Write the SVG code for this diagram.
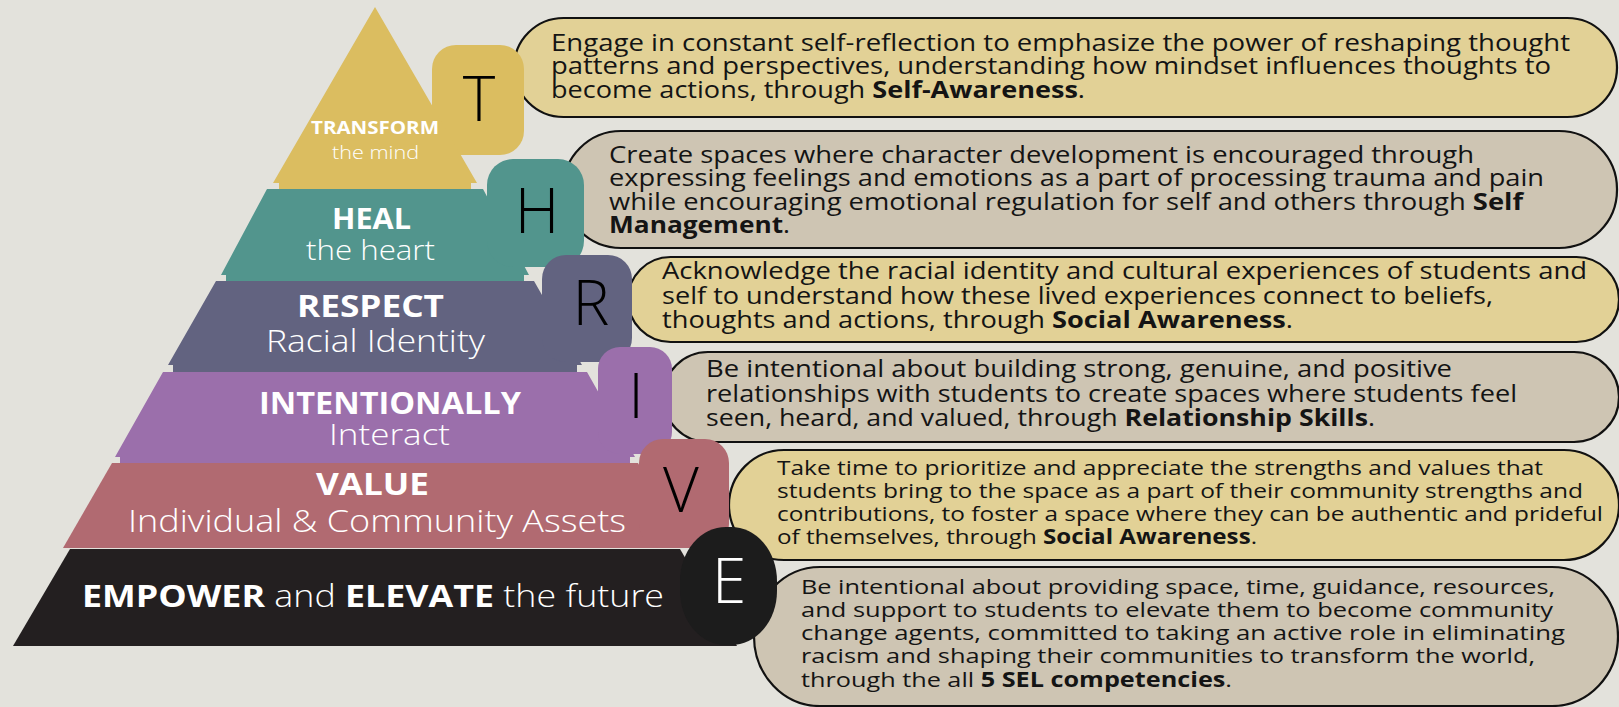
<svg xmlns="http://www.w3.org/2000/svg" width="1619" height="707" viewBox="0 0 1619 707">
<style>
.bg{fill:#E3E2DC}
.cy{fill:#E2D196;stroke:#111;stroke-width:2.2}
.cb{fill:#CEC5B3;stroke:#111;stroke-width:2.2}
.ct{font-family:"Open Sans","DejaVu Sans",sans-serif;font-weight:400;fill:#141414}
.b{font-weight:700}
.lb{font-weight:700}
.lab{font-family:"Open Sans","DejaVu Sans",sans-serif;font-weight:300;fill:#FFFFFF}
.lt{font-family:"Open Sans","DejaVu Sans",sans-serif;font-weight:300;font-size:62px;text-anchor:middle;fill:#000}
.y{fill:#DBBD60}.t{fill:#52958D}.s{fill:#626380}.p{fill:#9B6FAB}.r{fill:#B16A71}.k{fill:#231F20}
</style>
<rect class="bg" x="0" y="0" width="1619" height="707"/>

<g id="connectors"></g>

<g id="callout-T">
<rect class="cy" x="514" y="18" width="1103" height="99" rx="49.5" ry="49.5"/>
<text class="ct" font-size="23.5"><tspan x="551" y="51" textLength="1019" lengthAdjust="spacingAndGlyphs">Engage in constant self-reflection to emphasize the power of reshaping thought</tspan><tspan x="551" y="74" textLength="1000" lengthAdjust="spacingAndGlyphs">patterns and perspectives, understanding how mindset influences thoughts to</tspan><tspan x="551" y="98" textLength="534" lengthAdjust="spacingAndGlyphs">become actions, through <tspan class="b">Self-Awareness</tspan>.</tspan></text>
</g>

<g id="callout-H">
<rect class="cb" x="563" y="131" width="1054" height="117" rx="58" ry="58"/>
<text class="ct" font-size="23.5"><tspan x="609" y="163" textLength="865" lengthAdjust="spacingAndGlyphs">Create spaces where character development is encouraged through</tspan><tspan x="609" y="186" textLength="935" lengthAdjust="spacingAndGlyphs">expressing feelings and emotions as a part of processing trauma and pain</tspan><tspan x="609" y="210" textLength="914" lengthAdjust="spacingAndGlyphs">while encouraging emotional regulation for self and others through <tspan class="b">Self</tspan></tspan><tspan x="609" y="233" textLength="181" lengthAdjust="spacingAndGlyphs"><tspan class="b">Management</tspan>.</tspan></text>
</g>

<g id="callout-R">
<rect class="cy" x="628" y="257" width="991" height="85" rx="42.5" ry="42.5"/>
<text class="ct" font-size="23"><tspan x="662" y="279" textLength="925" lengthAdjust="spacingAndGlyphs">Acknowledge the racial identity and cultural experiences of students and</tspan><tspan x="662" y="304" textLength="831" lengthAdjust="spacingAndGlyphs">self to understand how these lived experiences connect to beliefs,</tspan><tspan x="662" y="328" textLength="631" lengthAdjust="spacingAndGlyphs">thoughts and actions, through <tspan class="b">Social Awareness</tspan>.</tspan></text>
</g>

<g id="callout-I">
<rect class="cb" x="663" y="352" width="956" height="90" rx="45" ry="45"/>
<text class="ct" font-size="23"><tspan x="706" y="377" textLength="746" lengthAdjust="spacingAndGlyphs">Be intentional about building strong, genuine, and positive</tspan><tspan x="706" y="402" textLength="811" lengthAdjust="spacingAndGlyphs">relationships with students to create spaces where students feel</tspan><tspan x="706" y="426" textLength="669" lengthAdjust="spacingAndGlyphs">seen, heard, and valued, through <tspan class="b">Relationship Skills</tspan>.</tspan></text>
</g>

<g id="callout-V">
<rect class="cy" x="729" y="450" width="890" height="110" rx="55" ry="55"/>
<text class="ct" font-size="20.5"><tspan x="777" y="475" textLength="766" lengthAdjust="spacingAndGlyphs">Take time to prioritize and appreciate the strengths and values that</tspan><tspan x="777" y="498" textLength="806" lengthAdjust="spacingAndGlyphs">students bring to the space as a part of their community strengths and</tspan><tspan x="777" y="521" textLength="826" lengthAdjust="spacingAndGlyphs">contributions, to foster a space where they can be authentic and prideful</tspan><tspan x="777" y="544" textLength="480" lengthAdjust="spacingAndGlyphs">of themselves, through <tspan class="b">Social Awareness</tspan>.</tspan></text>
</g>

<g id="callout-E">
<rect class="cb" x="754" y="567" width="864" height="139" rx="66" ry="69.5"/>
<text class="ct" font-size="20.5"><tspan x="801" y="594" textLength="754" lengthAdjust="spacingAndGlyphs">Be intentional about providing space, time, guidance, resources,</tspan><tspan x="801" y="617" textLength="752" lengthAdjust="spacingAndGlyphs">and support to students to elevate them to become community</tspan><tspan x="801" y="640" textLength="764" lengthAdjust="spacingAndGlyphs">change agents, committed to taking an active role in eliminating</tspan><tspan x="801" y="663" textLength="734" lengthAdjust="spacingAndGlyphs">racism and shaping their communities to transform the world,</tspan><tspan x="801" y="687" textLength="431" lengthAdjust="spacingAndGlyphs">through the all <tspan class="b">5 SEL competencies</tspan>.</tspan></text>
</g>

<g id="letter-T">
<rect class="y" x="432" y="45" width="92" height="110" rx="24"/>
<text class="lt" x="479" y="121">T</text>
</g>

<g id="layer-transform">
<polygon class="y" points="375,7 477,183 471,183 471,189 279,189 279,183 273,183"/>
<text class="lab"><tspan class="lb" font-size="18" x="311" y="134" textLength="128" lengthAdjust="spacingAndGlyphs">TRANSFORM</tspan><tspan font-size="19" x="332" y="159" textLength="87" lengthAdjust="spacingAndGlyphs">the mind</tspan></text>
</g>

<g id="layer-heal">
<polygon class="t" points="267,189 483,189 529,275 524,275 524,281 226,281 226,275 221,275"/>
<text class="lab"><tspan class="lb" font-size="28" x="332" y="229" textLength="79" lengthAdjust="spacingAndGlyphs">HEAL</tspan><tspan font-size="28" x="306" y="260" textLength="129" lengthAdjust="spacingAndGlyphs">the heart</tspan></text>
</g>

<g id="layer-respect">
<polygon class="s" points="216,281 534,281 582,365 577,365 577,372 173,372 173,365 168,365"/>
<text class="lab"><tspan class="lb" font-size="30" x="297" y="317" textLength="147" lengthAdjust="spacingAndGlyphs">RESPECT</tspan><tspan font-size="31" x="266" y="352" textLength="219" lengthAdjust="spacingAndGlyphs">Racial Identity</tspan></text>
</g>

<g id="layer-interact">
<polygon class="p" points="163,372 587,372 635,457 630,457 630,463 120,463 120,457 115,457"/>
<text class="lab"><tspan class="lb" font-size="30" x="259" y="414" textLength="262" lengthAdjust="spacingAndGlyphs">INTENTIONALLY</tspan><tspan font-size="30" x="329" y="445" textLength="121" lengthAdjust="spacingAndGlyphs">Interact</tspan></text>
</g>

<g id="layer-value">
<polygon class="r" points="112,463 638,463 687,548 63,548"/>
<text class="lab"><tspan class="lb" font-size="30" x="316" y="495" textLength="113" lengthAdjust="spacingAndGlyphs">VALUE</tspan><tspan font-size="31" x="128" y="532" textLength="498" lengthAdjust="spacingAndGlyphs">Individual &amp; Community Assets</tspan></text>
</g>

<g id="layer-empower">
<polygon class="k" points="70,549 680,549 737,646 13,646"/>
<text class="lab" font-size="31" x="82" y="607" textLength="582" lengthAdjust="spacingAndGlyphs"><tspan class="lb">EMPOWER</tspan> and <tspan class="lb">ELEVATE</tspan> the future</text>
</g>

<g id="letter-H">
<rect class="t" x="487" y="159" width="97" height="108" rx="26"/>
<text class="lt" x="537" y="233">H</text>
</g>
<g id="letter-R">
<rect class="s" x="542" y="255" width="90" height="107" rx="24"/>
<text class="lt" x="591" y="325">R</text>
</g>
<g id="letter-I">
<rect class="p" x="598" y="347" width="74" height="107" rx="22"/>
<text class="lt" x="636" y="418">I</text>
</g>
<g id="letter-V">
<rect class="r" x="639" y="439" width="90" height="109" rx="24"/>
<text class="lt" x="681" y="512">V</text>
</g>
<g id="letter-E">
<rect x="680" y="527" width="97" height="118" rx="46" ry="54" fill="#1C1C1C"/>
<text class="lt" x="729" y="603" style="fill:#FFFFFF">E</text>
</g>
</svg>
